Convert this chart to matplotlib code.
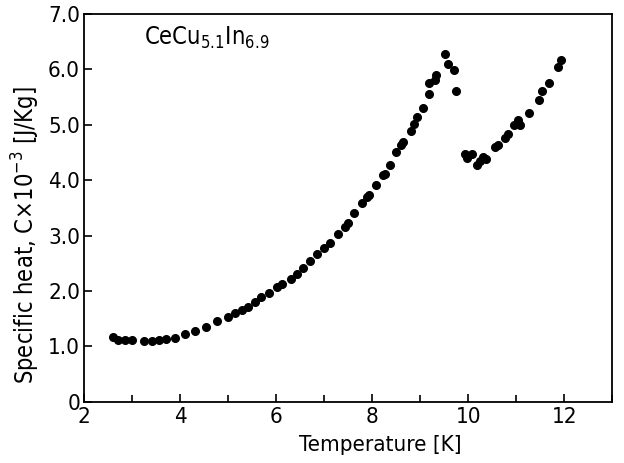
import numpy as np
import matplotlib
matplotlib.use("Agg")
import matplotlib.pyplot as plt
from matplotlib.ticker import MultipleLocator

plt.rcParams['font.family'] = ['DejaVu Sans']
plt.rcParams['font.stretch'] = 'condensed'

# Specific heat of CeCu5.1In6.9
temp = [2.59, 2.71, 2.84, 2.99, 3.25, 3.42, 3.56, 3.71, 3.89, 4.09, 4.30, 4.53,
        4.76, 4.99, 5.14, 5.28, 5.41, 5.56, 5.69, 5.84, 6.02, 6.13, 6.30, 6.43,
        6.56, 6.71, 6.86, 7.00, 7.12, 7.28, 7.43, 7.50, 7.63, 7.78, 7.89, 7.93,
        8.07, 8.22, 8.26, 8.37, 8.50, 8.60, 8.65, 8.80, 8.88, 8.93, 9.06, 9.18,
        9.18, 9.31, 9.34, 9.51, 9.57, 9.70, 9.74,
        9.93, 9.98, 10.08, 10.18, 10.25, 10.31, 10.38, 10.56, 10.62, 10.76, 10.82,
        10.96, 11.04, 11.07, 11.27, 11.48, 11.53, 11.68, 11.88, 11.94]
heat = [1.17, 1.12, 1.11, 1.11, 1.10, 1.10, 1.11, 1.13, 1.16, 1.23, 1.28, 1.35,
        1.46, 1.54, 1.60, 1.66, 1.72, 1.81, 1.90, 1.96, 2.07, 2.13, 2.21, 2.31,
        2.42, 2.54, 2.66, 2.77, 2.87, 3.02, 3.16, 3.23, 3.40, 3.58, 3.70, 3.73,
        3.91, 4.09, 4.12, 4.28, 4.51, 4.63, 4.69, 4.89, 5.02, 5.14, 5.31, 5.55,
        5.75, 5.81, 5.90, 6.27, 6.09, 5.99, 5.61,
        4.48, 4.40, 4.47, 4.28, 4.35, 4.42, 4.39, 4.60, 4.63, 4.76, 4.83,
        4.99, 5.09, 5.00, 5.21, 5.44, 5.61, 5.75, 6.04, 6.17]

y_ticks = [0, 1, 2, 3, 4, 5, 6, 7]
y_labels = ['0', '1.0', '2.0', '3.0', '4.0', '5.0', '6.0', '7.0']

fig = plt.figure(figsize=(6.24, 4.63), dpi=100)
ax = fig.add_axes([0.135, 0.132, 0.846, 0.838])

ax.plot(temp, heat, 'o', color='black', ms=5.5, mec='black')

ax.set_xlim(2, 13)
ax.set_ylim(0, 7)
ax.xaxis.set_major_locator(MultipleLocator(2))
ax.xaxis.set_minor_locator(MultipleLocator(1))
ax.set_yticks(y_ticks)
ax.set_yticklabels(y_labels)
ax.tick_params(axis='both', which='both', direction='in', labelsize=16,
               length=6, width=1.2)
ax.tick_params(axis='x', which='minor', length=5)
ax.tick_params(axis='x', pad=4)
ax.tick_params(axis='y', pad=3)
for s in ax.spines.values():
    s.set_linewidth(1.3)

ax.set_xlabel('Temperature [K]', fontsize=16)
ax.set_ylabel(r'Specific heat, C$\times$10$^{-3}$ [J/Kg]', fontsize=17)
ax.xaxis.set_label_coords(0.56, -0.085)
ax.yaxis.set_label_coords(-0.08, 0.43)
ax.text(3.25, 6.45, r'CeCu$_{5.1}$In$_{6.9}$', fontsize=17)

fig.savefig('out.png', dpi=100)
